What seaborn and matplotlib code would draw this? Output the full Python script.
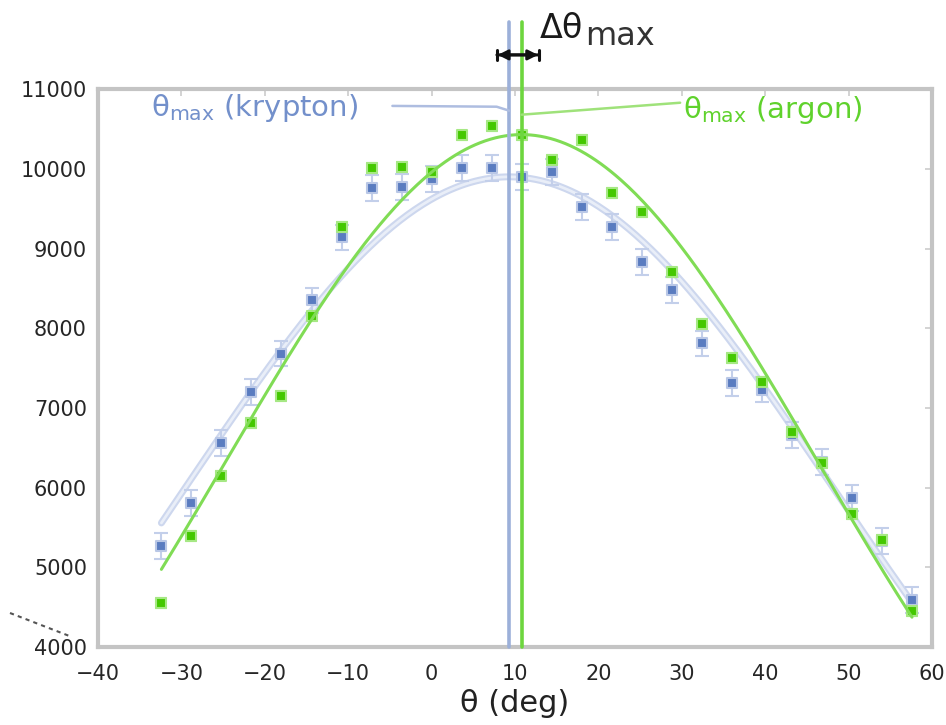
import numpy as np
import pandas as pd
import matplotlib
matplotlib.use("Agg")
import matplotlib.pyplot as plt
import seaborn as sns
from matplotlib.lines import Line2D

# ---------------- data ----------------
theta = [-32.4, -28.8, -25.2, -21.6, -18.0, -14.4, -10.8, -7.2, -3.6, 0.0,
         3.6, 7.2, 10.8, 14.4, 18.0, 21.6, 25.2, 28.8, 32.4, 36.0,
         39.6, 43.2, 46.8, 50.4, 54.0, 57.6]
krypton = [5270, 5810, 6560, 7200, 7680, 8350, 9140, 9760, 9770, 9870,
           10010, 10010, 9900, 9960, 9520, 9270, 8830, 8480, 7810, 7310,
           7230, 6660, 6320, 5870, 5330, 4590]
argon = [4550, 5390, 6150, 6810, 7150, 8150, 9270, 10010, 10020, 9960,
         10420, 10540, 10420, 10110, 10360, 9700, 9460, 8700, 8050, 7630,
         7330, 6700, 6310, 5670, 5340, 4450]
krypton_err = [160] * 26
argon_err = [60] * 26

# Gaussian fit parameters (peak, centre, sigma)
kr_fit = (9900, 9.3, 38.8)
ar_fit = (10430, 10.8, 35.5)
theta_max_kr = 9.3
theta_max_ar = 10.8

x_ticks = [-40, -30, -20, -10, 0, 10, 20, 30, 40, 50, 60]
y_ticks = [4000, 5000, 6000, 7000, 8000, 9000, 10000, 11000]

# ---------------- styling ----------------
BLUE = "#5a7cc0"
BLUE_LIGHT = "#cdd7ee"
BLUE_VLINE = "#9cb0d9"
GREEN = "#44c800"
GREEN_FIT = "#80dc55"
GREEN_VLINE = "#6dd63e"
SPINE = "#c4c4c4"

sns.set_theme(style="white")
plt.rcParams["font.family"] = ["DejaVu Sans"]
plt.rcParams["mathtext.fontset"] = "dejavusans"

fig = plt.figure(figsize=(9.46, 7.25), dpi=100)
ax = fig.add_axes([0.1036, 0.1076, 0.8816, 0.7694])

df = pd.DataFrame({"theta": theta, "krypton": krypton, "argon": argon})

xf = np.linspace(theta[0], theta[-1], 300)
def gauss(x, p):
    a, c, s = p
    return a * np.exp(-(x - c) ** 2 / (2 * s ** 2))
fit_df = pd.DataFrame({"x": xf, "kr": gauss(xf, kr_fit), "ar": gauss(xf, ar_fit)})

# krypton fit (pale band)
sns.lineplot(data=fit_df, x="x", y="kr", ax=ax, color=BLUE_LIGHT, lw=5, zorder=1)
sns.lineplot(data=fit_df, x="x", y="kr", ax=ax, color="#e9eef8", lw=2, zorder=1.1)

# error bars
ax.errorbar(theta, krypton, yerr=krypton_err, fmt="none", ecolor="#c3cfea",
            elinewidth=1.5, capsize=5, capthick=1.5, zorder=2)
ax.errorbar(theta, argon, yerr=argon_err, fmt="none", ecolor="#b5ea9a",
            elinewidth=1.5, capsize=4, capthick=1.5, zorder=2)

# points
sns.scatterplot(data=df, x="theta", y="krypton", ax=ax, marker="s", s=55,
                color=BLUE, edgecolor="#b9c7e6", linewidth=1.5, zorder=3)
sns.scatterplot(data=df, x="theta", y="argon", ax=ax, marker="s", s=60,
                color=GREEN, edgecolor="#a6e884", linewidth=1.5, zorder=3.5)

# argon fit
sns.lineplot(data=fit_df, x="x", y="ar", ax=ax, color=GREEN_FIT, lw=2.2, zorder=4)

ax.set_xlim(-40, 60)
ax.set_ylim(4000, 11000)

# vertical theta_max lines extending above the axes
top_val = 11840
ax.plot([theta_max_kr, theta_max_kr], [4000, top_val], color=BLUE_VLINE, lw=2.6,
        clip_on=False, zorder=5)
ax.plot([theta_max_ar, theta_max_ar], [4000, top_val], color=GREEN_VLINE, lw=2.6,
        clip_on=False, zorder=5)

# delta theta arrow
arrow_y = 11430
ax.annotate("", xy=(7.5, arrow_y), xytext=(13.2, arrow_y), xycoords="data",
            arrowprops=dict(arrowstyle="|-|,widthA=0.3,widthB=0.3", color="#111111", lw=2.2),
            annotation_clip=False, zorder=6)
ax.annotate("", xy=(7.6, arrow_y), xytext=(13.1, arrow_y), xycoords="data",
            arrowprops=dict(arrowstyle="<|-|>,head_length=0.5,head_width=0.25", color="#111111", lw=2),
            annotation_clip=False, zorder=6)
ax.text(13.0, 11760, "Δθ", fontsize=24, color="#1a1a1a",
        ha="left", va="center", clip_on=False)
ax.text(18.4, 11660, "max", fontsize=23, color="#333333", ha="left", va="center", clip_on=False)

# labels for theta_max
ax.text(-33.6, 10760, r"$\mathregular{\theta_{max}}$ (krypton)", fontsize=21, color="#7390cb",
        ha="left", va="center")
ax.plot([-4.7, 7.8, theta_max_kr], [10790, 10780, 10730], color="#aebde0", lw=1.8, zorder=5)
ax.text(30.1, 10740, r"$\mathregular{\theta_{max}}$ (argon)", fontsize=21, color="#5fd22c",
        ha="left", va="center")
ax.plot([theta_max_ar, 29.8], [10680, 10830], color="#9fe27a", lw=1.8, zorder=5)

# axes styling
for sp in ax.spines.values():
    sp.set_color(SPINE)
    sp.set_linewidth(3)
ax.set_xticks(x_ticks)
ax.set_yticks(y_ticks)
ax.tick_params(axis="both", which="major", direction="in", length=5, width=1.2,
               color="#cccccc", labelsize=15, labelcolor="#262626",
               top=True, right=True)
ax.tick_params(axis="x", pad=12)
ax.tick_params(axis="y", pad=8)
ax.set_xlabel("θ (deg)", fontsize=22, color="#222222", labelpad=4)
ax.set_ylabel("")
ax.grid(False)

# small dashed artifact at lower left
fig.add_artist(Line2D([10 / 946, 72 / 946], [1 - 613 / 725, 1 - 637 / 725],
                      color="#555555", lw=1.5, ls=(0, (2, 2))))

fig.savefig("out.png", dpi=100)
